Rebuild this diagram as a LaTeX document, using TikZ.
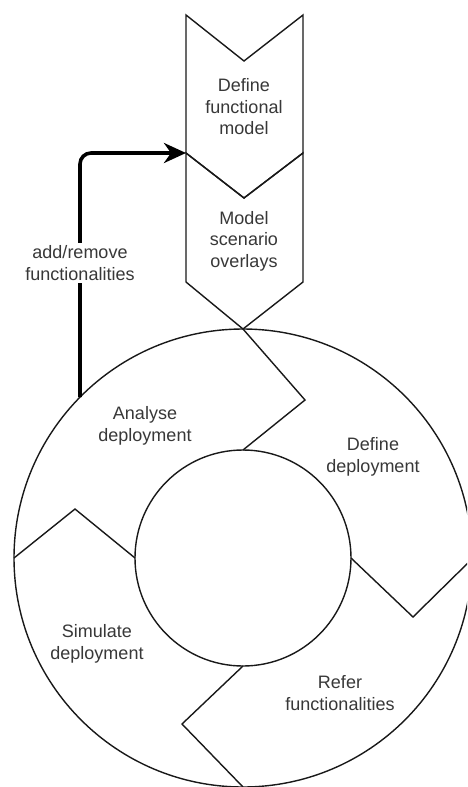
\documentclass[tikz,border=0pt]{standalone}
\usepackage{fontspec}
\setmainfont{Liberation Sans}
\usetikzlibrary{arrows.meta}
\begin{document}
\begin{tikzpicture}[x=1pt,y=-1pt,
  outline/.style={draw=black!90, line width=1.4pt, line join=miter},
  lbl/.style={font=\fontsize{18}{21.5}\selectfont, text=black!78, align=center, inner sep=1pt},
  feedback/.style={draw=black, line width=3.6pt, rounded corners=11pt,
    -{Stealth[length=22pt,width=20pt,inset=7pt]}}]
\useasboundingbox (0,0) rectangle (467,787);
\clip (0,0) rectangle (467,787);
\fill[white] (0,0) rectangle (467,787);

% cycle: outer ring and hub
\coordinate (c) at (243,558);
\draw[outline] (c) circle[radius=229];
\draw[outline] (c) circle[radius=108];

% separators between the four phases of the ring
\draw[outline] (243,329) -- (305,400) -- (243,450);
\draw[outline] (351,558) -- (413,617) -- (473,558);
\draw[outline] (243,666) -- (182,724) -- (243,787);
\draw[outline] (135,558) -- (75,509) -- (14,558);

% chevron steps feeding the cycle
\draw[outline] (186,15) -- (244,61) -- (303,15) -- (303,153) -- (244,198) -- (186,153) -- cycle;
\draw[outline] (186,153) -- (244,198) -- (303,153) -- (303,282) -- (243,329) -- (186,282) -- cycle;
\coordinate (entry) at (186,153);

\node[lbl] (fm) at (244,107) {Define\\functional\\model};
\node[lbl] (so) at (244,241) {Model\\scenario\\overlays};

% phase labels
\node[lbl] (ad) at (145,426) {Analyse\\deployment};
\node[lbl] (dd) at (373,457) {Define\\deployment};
\node[lbl] (sd) at (97,644) {Simulate\\deployment};
\node[lbl] (rf) at (340,693) {Refer\\functionalities};

% feedback loop back to the functional model
\coordinate (exit) at (80,397);
\draw[feedback] (exit) |- (entry);
\node[lbl, fill=white, inner sep=3pt] (fb) at (80,263) {add/remove\\functionalities};
\end{tikzpicture}
\end{document}
